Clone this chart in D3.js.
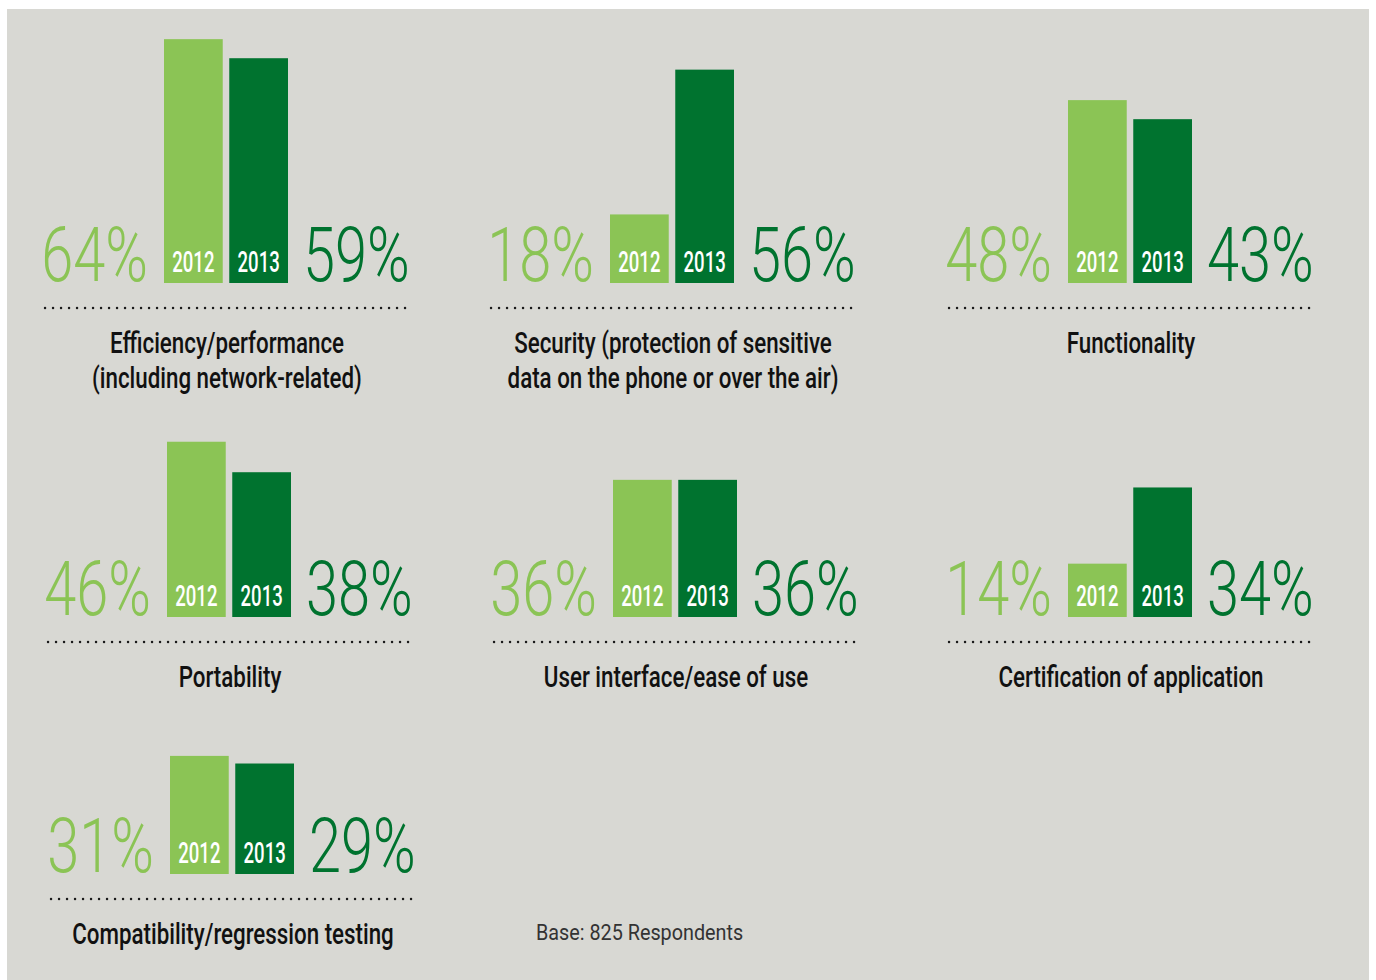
<!DOCTYPE html>
<html>
<head>
<meta charset="utf-8">
<script src="https://cdn.jsdelivr.net/npm/d3@7"></script>
<style>
  html, body { margin: 0; padding: 0; background: #fff; }
  text { font-family: Roboto, "Liberation Sans", sans-serif; }
</style>
</head>
<body>
<div id="chart"></div>
<script>
// categories, one panel each
var categories = [
    ['Efficiency/performance', '(including network-related)'],
    ['Security (protection of sensitive', 'data on the phone or over the air)'],
    ['Functionality'],
    ['Portability'],
    ['User interface/ease of use'],
    ['Certification of application'],
    ['Compatibility/regression testing']
];
var years = ['2012', '2013'];
var values2012 = [64, 18, 48, 46, 36, 14, 31];
var values2013 = [59, 56, 43, 38, 36, 34, 29];
var note = 'Base: 825 Respondents';

// layout of the panel grid (left edge of the 2012 bar, baseline of bars)
var panelLeft = [164, 610, 1068, 167, 613, 1068, 170];
var panelBase = [283, 283, 283, 617, 617, 617, 874];

var width = 1376, height = 980;
var colors = { '2012': '#8bc455', '2013': '#00732f' };

var svg = d3.select('#chart')
    .append('svg')
    .attr('width', width)
    .attr('height', height);

svg.append('rect')
    .attr('x', 7)
    .attr('y', 9)
    .attr('width', 1362)
    .attr('height', height - 9)
    .attr('fill', '#d8d8d3');

var h = d3.scaleLinear()
    .domain([0, 100])
    .range([0, 381]);

var x = d3.scaleBand()
    .domain(years)
    .range([0, 124])
    .paddingInner(0.1);

var panels = categories.map(function(c, i) {
    return {
        label: c,
        values: [values2012[i], values2013[i]],
        left: panelLeft[i],
        base: panelBase[i]
    };
});

// condensed text helper
function squeeze(sel, sx) {
    return sel.attr('transform', function() {
        var t = d3.select(this);
        return 'translate(' + t.attr('data-x') + ',' + t.attr('data-y') + ') scale(' + sx + ',1)';
    });
}

var panel = svg.selectAll('.panel')
    .data(panels)
    .enter()
    .append('g')
    .attr('class', 'panel')
    .attr('transform', function(d) { return 'translate(' + d.left + ',' + d.base + ')' });

panel.selectAll('.bar')
    .data(function(d) { return d.values.map(function(v, j) { return { year: years[j], value: v } }) })
    .enter()
    .append('rect')
    .attr('class', 'bar')
    .attr('x', function(d) { return x(d.year) })
    .attr('y', function(d) { return -h(d.value) })
    .attr('width', x.bandwidth())
    .attr('height', function(d) { return h(d.value) })
    .attr('fill', function(d) { return colors[d.year] });

panel.selectAll('.year')
    .data(years)
    .enter()
    .append('text')
    .attr('class', 'year')
    .attr('data-x', function(d) { return x(d) + x.bandwidth() / 2 })
    .attr('data-y', -11)
    .attr('text-anchor', 'middle')
    .attr('font-size', 30)
    .attr('font-weight', 500)
    .attr('fill', '#fff')
    .text(function(d) { return d })
    .call(squeeze, 0.62);

panel.append('text')
    .attr('data-x', -16)
    .attr('data-y', -2)
    .attr('text-anchor', 'end')
    .attr('font-size', 76)
    .attr('font-weight', 300)
    .attr('fill', colors['2012'])
    .text(function(d) { return d.values[0] + '%' })
    .call(squeeze, 0.76);

panel.append('text')
    .attr('data-x', x.range()[1] + 15)
    .attr('data-y', -2)
    .attr('text-anchor', 'start')
    .attr('font-size', 76)
    .attr('font-weight', 300)
    .attr('fill', colors['2013'])
    .text(function(d) { return d.values[1] + '%' })
    .call(squeeze, 0.76);

panel.append('line')
    .attr('x1', -119)
    .attr('x2', 244)
    .attr('y1', 25)
    .attr('y2', 25)
    .attr('stroke', '#1a1a1a')
    .attr('stroke-width', 2.4)
    .attr('stroke-linecap', 'round')
    .attr('stroke-dasharray', '0.1 7.9');

panel.each(function(d) {
    var g = d3.select(this);
    d.label.forEach(function(line, k) {
        g.append('text')
            .attr('data-x', 63)
            .attr('data-y', 70 + k * 35)
            .attr('text-anchor', 'middle')
            .attr('font-size', 29)
            .attr('font-weight', 500)
            .attr('fill', '#111')
            .text(line)
            .call(squeeze, 0.77);
    });
});

svg.append('text')
    .attr('data-x', 536)
    .attr('data-y', 940)
    .attr('font-size', 22)
    .attr('fill', '#333')
    .text(note)
    .call(squeeze, 0.9);
</script>
</body>
</html>
